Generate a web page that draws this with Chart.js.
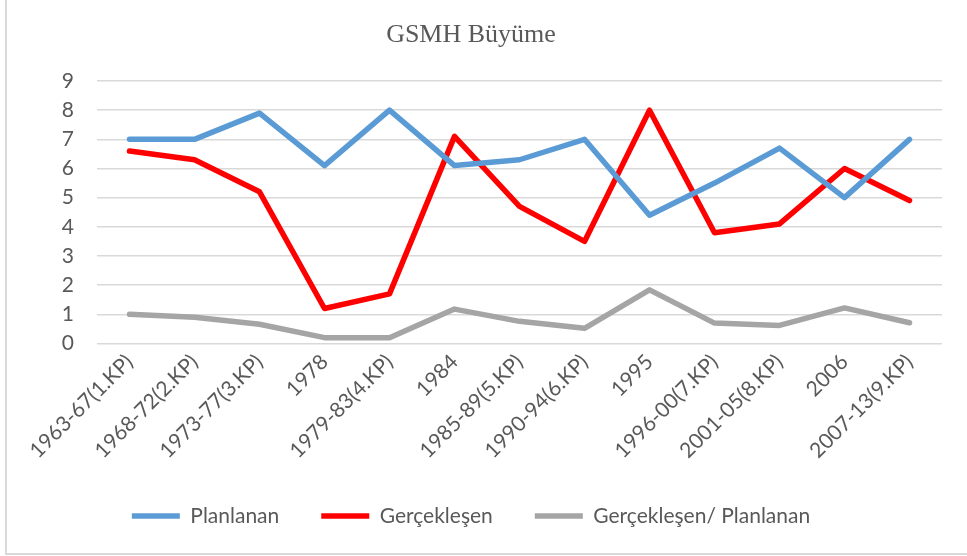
<!DOCTYPE html>
<html>
<head>
<meta charset="utf-8">
<script src="https://cdn.jsdelivr.net/npm/chart.js@4"></script>
<style>
  html, body { margin: 0; padding: 0; background: #fff; overflow: hidden; }
  #wrap { position: relative; width: 967px; height: 556px; }
  #frame { position: absolute; left: 5px; top: -10px; width: 1000px; height: 565px; box-sizing: border-box; border: 2px solid #d9d9d9; pointer-events: none; }
  canvas { position: absolute; left: 0; top: 0; }
</style>
</head>
<body>
<div id="wrap">
  <canvas id="c" width="967" height="556"></canvas>
  <div id="frame"></div>
</div>
<script>
const chartTitle = "GSMH Büyüme";
const categories = ["1963-67(1.KP)", "1968-72(2.KP)", "1973-77(3.KP)", "1978", "1979-83(4.KP)", "1984", "1985-89(5.KP)", "1990-94(6.KP)", "1995", "1996-00(7.KP)", "2001-05(8.KP)", "2006", "2007-13(9.KP)"];
const seriesNames = ["Planlanan", "Gerçekleşen", "Gerçekleşen/ Planlanan"];
const planlanan = [7.0, 7.0, 7.9, 6.1, 8.0, 6.1, 6.3, 7.0, 4.4, 5.5, 6.7, 5.0, 7.0];
const gerceklesen = [6.6, 6.3, 5.2, 1.2, 1.7, 7.1, 4.7, 3.5, 8.0, 3.8, 4.1, 6.0, 4.9];
const oran = [1.0, 0.9, 0.66, 0.2, 0.2, 1.18, 0.76, 0.52, 1.84, 0.7, 0.62, 1.22, 0.71];
const yTicks = [0, 1, 2, 3, 4, 5, 6, 7, 8, 9];

const colors = ["#5B9BD5", "#FF0000", "#A5A5A5"];
const seriesData = [planlanan, gerceklesen, oran];
const textColor = "#595959";
const sansFont = "Lato, 'Noto Sans', sans-serif";

new Chart(document.getElementById("c"), {
  type: "line",
  data: {
    labels: categories,
    datasets: seriesData.map((d, i) => ({
      label: seriesNames[i],
      data: d,
      borderColor: colors[i],
      backgroundColor: colors[i],
      borderWidth: 5.5,
      borderCapStyle: "round",
      borderJoinStyle: "round",
      pointRadius: 0,
      pointHoverRadius: 0,
      tension: 0,
      fill: false
    }))
  },
  options: {
    responsive: false,
    animation: false,
    layout: { padding: { left: 0, right: 25, top: 0, bottom: 19.5 } },
    plugins: {
      title: {
        display: true,
        text: chartTitle,
        color: textColor,
        font: { family: "'Liberation Serif', 'Times New Roman', serif", size: 26, weight: "normal" },
        padding: { top: 20, bottom: 29.8 }
      },
      legend: {
        display: true,
        position: "bottom",
        labels: {
          color: textColor,
          font: { family: sansFont, size: 21 },
          usePointStyle: true,
          pointStyle: "line",
          pointStyleWidth: 48,
          padding: 42
        }
      },
      tooltip: { enabled: false }
    },
    scales: {
      x: {
        offset: true,
        grid: { display: false, drawTicks: false },
        border: { display: false },
        ticks: {
          color: textColor,
          font: { family: sansFont, size: 21 },
          minRotation: 45,
          maxRotation: 45,
          autoSkip: false,
          padding: 6
        },
        afterFit: (s) => { s.height = 120; }
      },
      y: {
        min: 0,
        max: 9,
        grid: { color: "#D9D9D9", lineWidth: 1.5, drawTicks: false },
        border: { display: false },
        afterBuildTicks: (s) => { s.ticks = yTicks.map(v => ({ value: v })); },
        ticks: {
          color: textColor,
          font: { family: sansFont, size: 21 },
          padding: 23
        },
        afterFit: (s) => { s.width = 97; }
      }
    }
  }
});
</script>
</body>
</html>
